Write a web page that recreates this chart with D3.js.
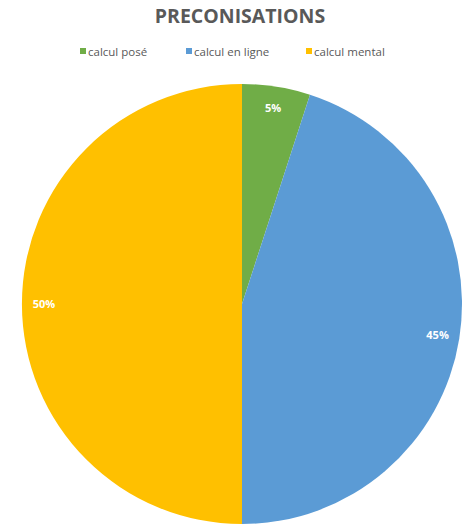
<!DOCTYPE html>
<html>
<head>
<meta charset="utf-8">
<script src="https://cdn.jsdelivr.net/npm/d3@7"></script>
<style>
  body { margin: 0; background: #fff; }
  svg { display: block; }
</style>
</head>
<body>
<svg id="chart" width="470" height="528"></svg>
<script>
// Chart data
const categories = ['calcul posé', 'calcul en ligne', 'calcul mental'];
const values = [5, 45, 50];
const colors = ['#70AD47', '#5B9BD5', '#FFC000'];

const svg = d3.select('#chart');
const cx = 242, cy = 304, radius = 220;

// Title
svg.append('text')
  .attr('x', 240)
  .attr('y', 23)
  .attr('text-anchor', 'middle')
  .attr('font-family', 'Open Sans, sans-serif')
  .attr('font-weight', 'bold')
  .attr('font-size', 19.5)
  .attr('fill', '#595959')
  .text('PRECONISATIONS');

// Legend
const legendX = [80, 186, 306];
const legend = svg.append('g').attr('font-family', 'Open Sans, sans-serif').attr('font-size', 11.5).attr('fill', '#595959');
categories.forEach((c, i) => {
  legend.append('rect')
    .attr('x', legendX[i])
    .attr('y', 48)
    .attr('width', 6)
    .attr('height', 6)
    .attr('fill', colors[i]);
  legend.append('text')
    .attr('x', legendX[i] + 8)
    .attr('y', 55.5)
    .text(c);
});

// Pie
const pie = d3.pie().sort(null).value(d => d);
const arc = d3.arc().innerRadius(0).outerRadius(radius);
const labelArc = d3.arc().innerRadius(radius * 0.9).outerRadius(radius * 0.9);

const g = svg.append('g').attr('transform', `translate(${cx},${cy})`);
const arcs = pie(values);

g.selectAll('path')
  .data(arcs)
  .join('path')
  .attr('d', arc)
  .attr('fill', (d, i) => colors[i]);

g.selectAll('text')
  .data(arcs)
  .join('text')
  .attr('transform', d => `translate(${labelArc.centroid(d)})`)
  .attr('text-anchor', 'middle')
  .attr('dy', '0.35em')
  .attr('font-family', 'Open Sans, sans-serif')
  .attr('font-weight', 'bold')
  .attr('font-size', 11)
  .attr('fill', '#fff')
  .text(d => d.data + '%');
</script>
</body>
</html>
